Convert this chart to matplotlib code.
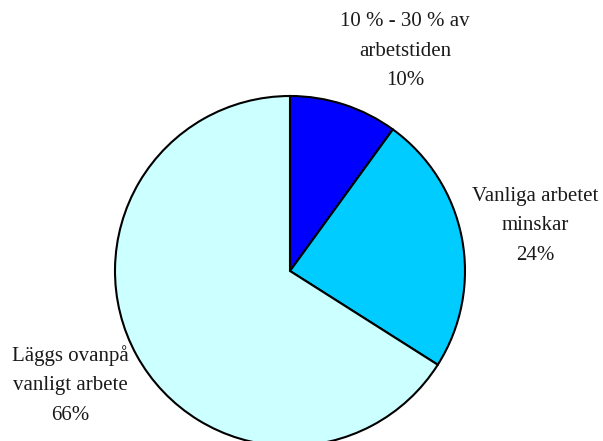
import matplotlib
matplotlib.use("Agg")
import matplotlib.pyplot as plt

# Share of the work time
labels = ["10 % - 30 % av\narbetstiden", "Vanliga arbetet\nminskar", "Läggs ovanpå\nvanligt arbete"]
shares = [10, 24, 66]
colors = ["#0000FF", "#00CCFF", "#CCFFFF"]

plt.rcParams["font.family"] = ["Liberation Serif", "DejaVu Serif"]

fig = plt.figure(figsize=(6.03, 4.41), dpi=100)
ax = fig.add_axes([0, 0, 1, 1])

ax.pie(shares, colors=colors, startangle=90, counterclock=False,
       center=(290, 170), radius=175, frame=True,
       wedgeprops=dict(edgecolor="black", linewidth=1.5))
ax.set_xlim(0, 603)
ax.set_ylim(0, 441)
ax.axis("off")

# label anchors (pixel coords, y from bottom)
label_pos = [(405, 390), (535, 215), (70, 56)]
for lab, val, (x, y) in zip(labels, shares, label_pos):
    ax.text(x, y, f"{lab}\n{val}%", ha="center", va="center",
            fontsize=15, linespacing=1.75, color="#1a1a1a")

fig.savefig("out.png", dpi=100)
